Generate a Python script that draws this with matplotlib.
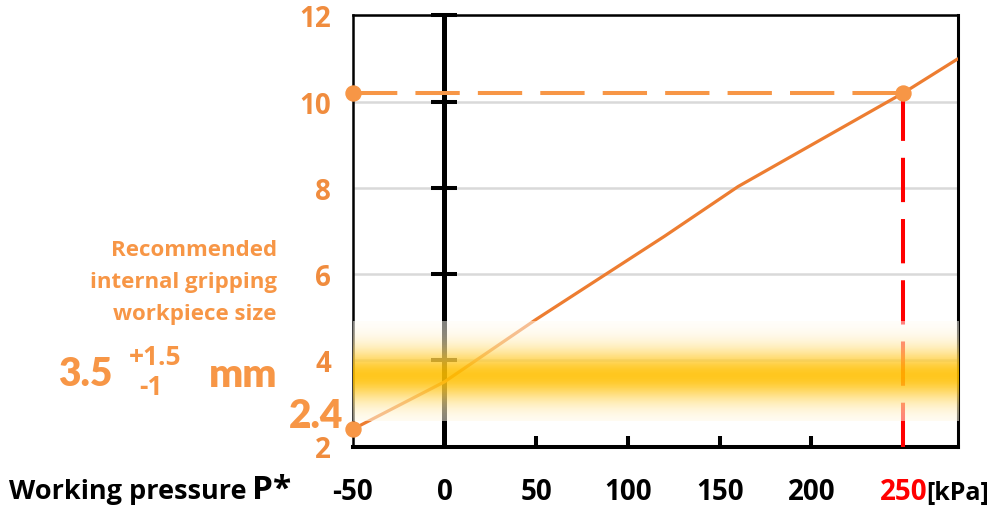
import numpy as np
import matplotlib
matplotlib.use("Agg")
import matplotlib.pyplot as plt

# ---------------- data ----------------
pressure_kpa = [-50, 0, 50, 120, 160, 250, 280]
gripping_size_mm = [2.4, 3.5, 4.95, 6.88, 8.03, 10.2, 11.0]
min_point = (-50, 2.4)
work_point = (250, 10.2)
band_range = (2.6, 4.9)      # recommended size band (3.5 +1.5 / -1)
band_center = 3.65
x_ticks = [-50, 0, 50, 100, 150, 200, 250]
x_tick_labels = ["-50", "0", "50", "100", "150", "200", "250"]
y_ticks = [2, 4, 6, 8, 10, 12]
zero_marks = [4, 6, 8, 10, 12]

# ---------------- style ----------------
W, H = 995, 510
ORANGE = "#ED7D31"
LORANGE = "#F79646"
TXT_OR = "#F08C3E"
GOLD = np.array([255, 192, 0]) / 255.0
FONT = "Open Sans"
FONT2 = "Lato"

fig = plt.figure(figsize=(W / 100, H / 100), dpi=100)
ax = fig.add_axes([352.7 / W, 1 - 447.5 / H, (958.3 - 352.7) / W, (447.5 - 16.4) / H])
ax.set_xlim(-50, 280)
ax.set_ylim(2, 12)

def px(x, y):
    return (x / W, 1 - y / H)

# grid
ax.set_yticks(y_ticks)
ax.yaxis.grid(True, color="#D9D9D9", linewidth=1.8, zorder=0)
ax.set_axisbelow(True)

# spines
for s, lw in [("left", 1.8), ("top", 1.8), ("right", 2.2), ("bottom", 2.9)]:
    ax.spines[s].set_linewidth(lw)
    ax.spines[s].set_color("black")

# vertical zero line with tick marks
ax.plot([0, 0], [2, 12], color="black", linewidth=3.6, zorder=2, solid_capstyle="butt", clip_on=False)
ax.plot([0] * len(zero_marks), zero_marks, linestyle="none", marker="_", markersize=19,
        markeredgewidth=2.9, color="black", zorder=2, clip_on=False)

# main curve
ax.plot(pressure_kpa, gripping_size_mm, color=ORANGE, linewidth=2.3, zorder=3, solid_capstyle="butt")

# dashed guides
ax.plot([min_point[0], work_point[0]], [work_point[1], work_point[1]], color=LORANGE,
        linewidth=2.9, dashes=(11, 4.5), zorder=3, clip_on=False)
ax.plot([work_point[0], work_point[0]], [2, work_point[1]], color="#FF0000",
        linewidth=2.9, dashes=(11, 4.2), zorder=3, dash_capstyle="butt")

# markers
ax.plot([min_point[0], work_point[0], min_point[0]], [min_point[1], work_point[1], work_point[1]],
        linestyle="none", marker="o", markersize=10.8, color=LORANGE, zorder=6, clip_on=False)

# gradient band (overlay)
ys = np.linspace(band_range[0], band_range[1], 300)
t = np.exp(-((ys - band_center) / 0.68) ** 2)
rgba = np.zeros((len(ys), 1, 4))
rgba[:, 0, :3] = (1 - t)[:, None] * 1.0 + t[:, None] * GOLD[None, :]
rgba[:, 0, 3] = 0.5 + 0.38 * t
ax.imshow(rgba, extent=(-50, 280, band_range[0], band_range[1]), origin="lower",
          aspect="auto", zorder=5, interpolation="bilinear")
ax.set_xlim(-50, 280)
ax.set_ylim(2, 12)

# ticks
ax.set_xticks(x_ticks)
ax.set_xticklabels(x_tick_labels)
ax.tick_params(axis="x", direction="in", length=8, width=2.9, pad=22, labelsize=20, colors="black")
ax.tick_params(axis="y", length=0, pad=15.5, labelsize=20, labelcolor=TXT_OR)
for lab in ax.get_xticklabels():
    lab.set_fontfamily(FONT)
    lab.set_fontweight("bold")
for lab in ax.get_yticklabels():
    lab.set_fontfamily(FONT)
    lab.set_fontweight("bold")
ticks = ax.xaxis.get_major_ticks()
for i, v in enumerate(x_ticks):
    if v in (-50, 0, 250):
        ticks[i].tick1line.set_visible(False)
    if v == 250:
        ticks[i].label1.set_color("#FF0000")

# extra texts
fig.text(*px(926, 500), "[kPa]", fontsize=18, fontweight="bold", family=FONT, color="black", va="baseline", ha="left")
fig.text(*px(9, 499), "Working pressure", fontsize=19.5, fontweight="bold", family=FONT, color="black", va="baseline", ha="left")
fig.text(*px(252, 499), "P*", fontsize=24, fontweight="bold", family=FONT, color="black", va="baseline", ha="left")

for txt, yb in [("Recommended", 256), ("internal gripping", 288), ("workpiece size", 320)]:
    fig.text(*px(277, yb), txt, fontsize=16, fontweight="bold", family=FONT, color=LORANGE, va="baseline", ha="right")
fig.text(*px(58, 386), "3.5", fontsize=28, fontweight="heavy", family=FONT2, color=LORANGE, va="baseline", ha="left")
fig.text(*px(129, 365), "+1.5", fontsize=19, fontweight="bold", family=FONT, color=LORANGE, va="baseline", ha="left")
fig.text(*px(139, 395), "-1", fontsize=19, fontweight="bold", family=FONT, color=LORANGE, va="baseline", ha="left")
fig.text(*px(277, 387), "mm", fontsize=29, fontweight="heavy", family=FONT2, color=LORANGE, va="baseline", ha="right")
fig.text(*px(343, 428), "2.4", fontsize=28, fontweight="heavy", family=FONT2, color=LORANGE, va="baseline", ha="right")

fig.savefig("out.png", dpi=100)
